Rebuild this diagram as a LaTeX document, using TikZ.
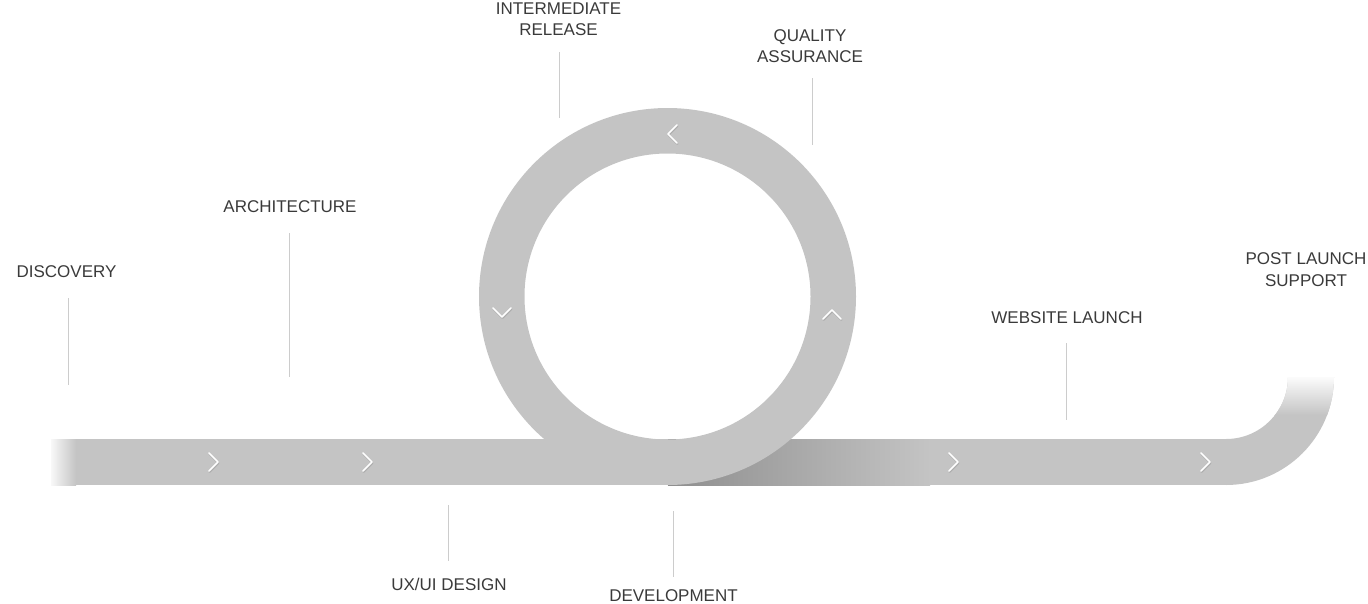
\documentclass[tikz,border=0pt]{standalone}
\usepackage{fontspec}
\setmainfont{Liberation Sans}
\definecolor{band}{HTML}{C4C4C4}
\definecolor{bandshadow}{HTML}{8E8E8E}
\definecolor{leaderline}{HTML}{CCCCCC}
\definecolor{phasetext}{HTML}{3A3A3A}
\begin{document}
\begin{tikzpicture}[x=1pt, y=-1pt]
  \useasboundingbox (0,0) rectangle (1368,603);

  \tikzstyle{phase}=[font=\fontsize{17}{21.5}\selectfont, text=phasetext, align=center, inner sep=0pt, anchor=base]
  \tikzstyle{leader}=[draw=leaderline, line width=1pt]
  \tikzstyle{chev}=[draw=white, line width=1.5pt, line cap=round, line join=round]
  \tikzstyle{chevshadow}=[draw=black, opacity=0.12, line width=1.8pt, line cap=round, line join=round]

  % Band rechts (Schatten unter der Schleife)
  \fill[band] (668,439) rectangle (1227,485);
  \begin{scope}
    \clip (668,439) rectangle (930,485);
    \shade[left color=bandshadow, right color=band] (667,430) rectangle (931,495);
  \end{scope}
  \begin{scope}
    \clip (1226,485) arc[start angle=-90, end angle=0, radius=108pt]
      -- (1288,377) arc[start angle=0, end angle=-90, radius=62pt] -- cycle;
    \fill[band] (1220,370) rectangle (1340,490);
    \shade[top color=white!94!band, bottom color=band] (1220,377) rectangle (1340,415);
  \end{scope}

  % Band links
  \fill[band] (51,439) rectangle (668,485);
  \begin{scope}
    \clip (51,439) rectangle (76,485);
    \shade[left color=white!88!band, right color=band] (51,430) rectangle (76,495);
  \end{scope}

  % Schleife
  \fill[band, even odd rule] (667.5,296.5) circle[radius=188.5pt] circle[radius=143pt];

  % Pfeile
  \draw[chevshadow] (209.5,454) -- (218.5,463) -- (209.5,472);
  \draw[chevshadow] (363.5,454) -- (372.5,463) -- (363.5,472);
  \draw[chevshadow] (949.5,454) -- (958.5,463) -- (949.5,472);
  \draw[chevshadow] (1201.5,454) -- (1210.5,463) -- (1201.5,472);
  \draw[chevshadow] (677.5,126) -- (668.5,135) -- (677.5,144);
  \draw[chevshadow] (493.5,309) -- (502.5,318) -- (511.5,309);
  \draw[chevshadow] (823.5,320) -- (832.5,311) -- (841.5,320);

  \draw[chev] (209,453) -- (218,462) -- (209,471);
  \draw[chev] (363,453) -- (372,462) -- (363,471);
  \draw[chev] (949,453) -- (958,462) -- (949,471);
  \draw[chev] (1201,453) -- (1210,462) -- (1201,471);
  \draw[chev] (677,125) -- (668,134) -- (677,143);
  \draw[chev] (493,308) -- (502,317) -- (511,308);
  \draw[chev] (823,319) -- (832,310) -- (841,319);

  % Phasen
  \node[phase] (disc) at (66.5,277.5) {DISCOVERY};
  \node[phase] (arch) at (290,212.5) {ARCHITECTURE};
  \node[phase] (uxui) at (449,590.5) {UX/UI DESIGN};
  \node[phase] (inter) at (558.5,35.5) {INTERMEDIATE\\RELEASE};
  \node[phase] (dev) at (673.5,601.5) {DEVELOPMENT};
  \node[phase] (qa) at (810,62.5) {QUALITY\\ASSURANCE};
  \node[phase] (web) at (1067,323.5) {WEBSITE LAUNCH};
  \node[phase] (post) at (1306,286) {POST LAUNCH\\SUPPORT};

  % Hinweislinien
  \coordinate (disc-a) at (68.5,298);   \coordinate (disc-b) at (68.5,385);
  \coordinate (arch-a) at (289.5,233);  \coordinate (arch-b) at (289.5,377);
  \coordinate (uxui-a) at (448.5,505);  \coordinate (uxui-b) at (448.5,561);
  \coordinate (inter-a) at (559.5,52);  \coordinate (inter-b) at (559.5,118);
  \coordinate (dev-a) at (673.5,511);   \coordinate (dev-b) at (673.5,577);
  \coordinate (qa-a) at (812.5,78);     \coordinate (qa-b) at (812.5,145);
  \coordinate (web-a) at (1066.5,343);  \coordinate (web-b) at (1066.5,420);

  \draw[leader] (disc-a) -- (disc-b);
  \draw[leader] (arch-a) -- (arch-b);
  \draw[leader] (uxui-a) -- (uxui-b);
  \draw[leader] (inter-a) -- (inter-b);
  \draw[leader] (dev-a) -- (dev-b);
  \draw[leader] (qa-a) -- (qa-b);
  \draw[leader] (web-a) -- (web-b);
\end{tikzpicture}
\end{document}
